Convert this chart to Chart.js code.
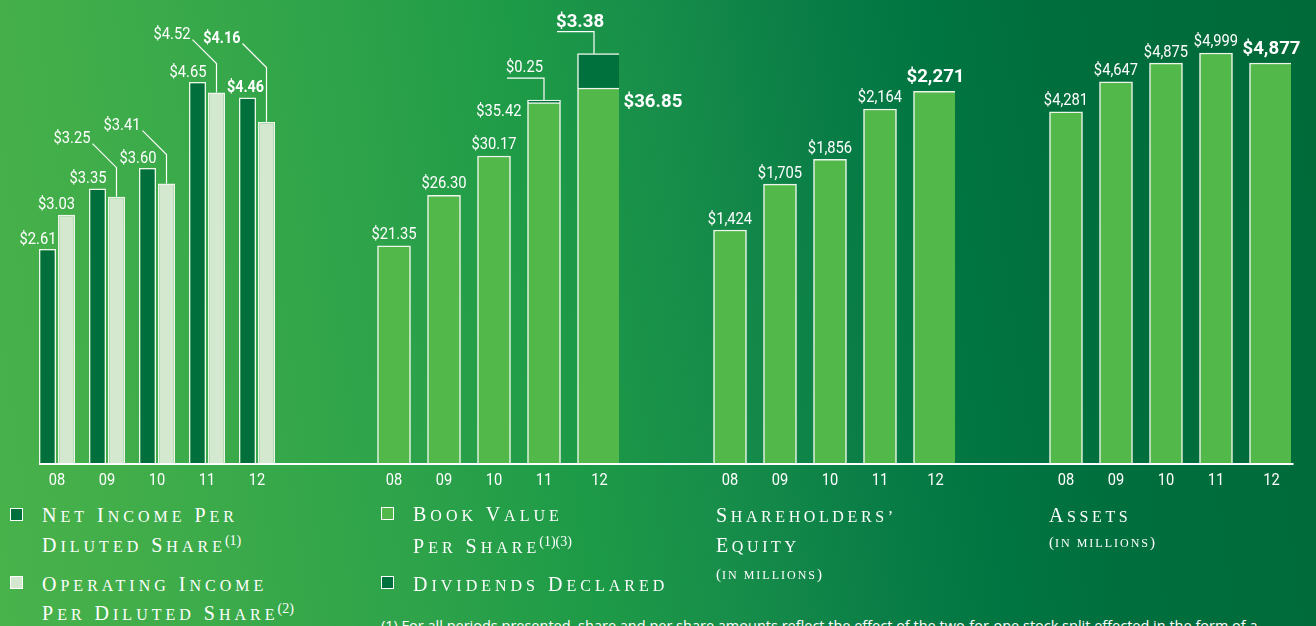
<!DOCTYPE html>
<html><head><meta charset="utf-8">
<script src="https://cdn.jsdelivr.net/npm/chart.js@4.4.0/dist/chart.umd.min.js"></script>
<style>
html,body{margin:0;padding:0;width:1316px;height:626px;overflow:hidden;}
body{position:relative;background:linear-gradient(82deg,#48b24b 0%,#45b04a 6%,#2ea34a 30%,#1d9a47 43%,#178d4a 53%,#0a7e46 63%,#007541 72%,#006e3d 81%,#006a39 100%);font-family:'Liberation Serif',serif;color:#fff;}
canvas{position:absolute;top:0;}
.leg{position:absolute;font-size:20px;letter-spacing:4px;line-height:20px;white-space:nowrap;color:#fff;}
.leg.t{letter-spacing:3.6px;}
.leg .s{font-size:16px;text-transform:uppercase;}
.leg sup{font-size:14px;letter-spacing:0;vertical-align:0;position:relative;top:-7px;margin-left:-1px;}
.sub{position:absolute;font-size:12px;text-transform:uppercase;letter-spacing:2px;line-height:15px;white-space:nowrap;color:#fff;}
.sub .p{font-size:15px;letter-spacing:1px;}
.sw{position:absolute;width:11px;height:11px;border:1.5px solid #fff;}
.note{position:absolute;left:381px;top:617px;font-family:'Open Sans',sans-serif;font-size:14.5px;line-height:18px;white-space:nowrap;color:#fff;}
</style></head>
<body>
<canvas id="c1" width="400" height="500" style="left:-11px"></canvas>
<canvas id="c2" width="400" height="500" style="left:326px"></canvas>
<canvas id="c3" width="400" height="500" style="left:662px"></canvas>
<canvas id="c4" width="400" height="500" style="left:998px"></canvas>

<div class="sw" style="left:10px;top:508px;background:#006f3c"></div>
<div class="leg" style="left:42px;top:505px">N<span class="s">et</span> I<span class="s">ncome</span> P<span class="s">er</span></div>
<div class="leg" style="left:42px;top:535px">D<span class="s">iluted</span> S<span class="s">hare</span><sup>(1)</sup></div>
<div class="sw" style="left:10px;top:576px;background:#d4e8cf"></div>
<div class="leg" style="left:42px;top:574px">O<span class="s">perating</span> I<span class="s">ncome</span></div>
<div class="leg" style="left:42px;top:603px">P<span class="s">er</span> D<span class="s">iluted</span> S<span class="s">hare</span><sup>(2)</sup></div>

<div class="sw" style="left:381px;top:507px;background:#53b84a"></div>
<div class="leg" style="left:413px;top:504px">B<span class="s">ook</span> V<span class="s">alue</span></div>
<div class="leg" style="left:413px;top:536px">P<span class="s">er</span> S<span class="s">hare</span><sup>(1)(3)</sup></div>
<div class="sw" style="left:381px;top:576px;background:#00703d"></div>
<div class="leg" style="left:413px;top:574px">D<span class="s">ividends</span> D<span class="s">eclared</span></div>

<div class="leg t" style="left:716px;top:505px">S<span class="s">hareholders’</span></div>
<div class="leg t" style="left:716px;top:535px">E<span class="s">quity</span></div>
<div class="sub" style="left:716px;top:567px"><span class="p">(</span>in millions<span class="p">)</span></div>

<div class="leg t" style="left:1049px;top:505px">A<span class="s">ssets</span></div>
<div class="sub" style="left:1049px;top:535px"><span class="p">(</span>in millions<span class="p">)</span></div>

<div class="note">(1) For all periods presented, share and per share amounts reflect the effect of the two-for-one stock split effected in the form of a</div>

<script>
// ---- data ----
const years = ['08', '09', '10', '11', '12'];
const netIncome = [2.61, 3.35, 3.60, 4.65, 4.46];
const operatingIncome = [3.03, 3.25, 3.41, 4.52, 4.16];
const bookValue = [21.35, 26.30, 30.17, 35.42, 36.85];
const dividends = [null, null, null, 0.25, 3.38];
const equity = [1424, 1705, 1856, 2164, 2271];
const assets = [4281, 4647, 4875, 4999, 4877];

// ---- style ----
const COL = {dark:'#006f3c', light:'#d4e8cf', green:'#53b84a', div:'#00703d', edge:'#eef6ec'};
const NORMAL_W = 33, WIDE_W = 44;
const LAST = years.length - 1;
const FONTS = {
  reg:   {font:'16px Roboto', sx:0.92},
  boldS: {font:'bold 16px Roboto', sx:0.9},
  boldL: {font:'bold 19px Roboto', sx:0.98},
  tick:  {font:'17px Roboto', sx:0.86}
};
const money2 = v => '$' + v.toFixed(2);
const money0 = v => '$' + v.toLocaleString('en-US');

function drawText(ctx, s, x, y, align, kind){
  const f = FONTS[kind];
  ctx.save(); ctx.font = f.font; ctx.fillStyle = '#fff';
  ctx.textAlign = align; ctx.textBaseline = 'alphabetic';
  ctx.translate(x, y); ctx.scale(f.sx, 1); ctx.fillText(s, 0, 0); ctx.restore();
}
function stroke(ctx, pts){
  ctx.save(); ctx.strokeStyle = '#fff'; ctx.lineWidth = 1.2; ctx.beginPath();
  pts.forEach((p, i) => i ? ctx.lineTo(p[0], p[1]) : ctx.moveTo(p[0], p[1]));
  ctx.stroke(); ctx.restore();
}
const onlyLast = arr => arr.map((v, i) => i === LAST ? v : null);
const notLast = arr => arr.map((v, i) => i === LAST ? null : v);

function baseOpts(max, stacked){
  return {
    responsive:false, animation:false, events:[],
    layout:{padding:{left:43, right:107, top:0, bottom:37}},
    plugins:{legend:{display:false}, tooltip:{enabled:false}},
    scales:{
      x:{display:false, stacked:stacked, grid:{display:false}},
      y:{display:false, min:0, max:max, stacked:stacked}
    }
  };
}

// shift the wide (highlighted-year) bars so their left edge stays aligned
const widePlugin = {
  id:'wide',
  afterDatasetsUpdate(chart){
    chart.data.datasets.forEach((ds, di) => {
      if (!ds.wide) return;
      chart.getDatasetMeta(di).data.forEach(el => { el.x += (WIDE_W - NORMAL_W) / 2; });
    });
  }
};

// baseline and year ticks
function axisPlugin(fromBar, toBar){
  return {
    id:'axis',
    afterDatasetsDraw(chart){
      const ctx = chart.ctx, a = chart.chartArea, W = chart.width;
      const metas = chart.data.datasets.map((d, i) => chart.getDatasetMeta(i));
      const firstEl = metas[0].data[0];
      const lastDs = chart.data.datasets.length - 1;
      const lastEl = metas[lastDs].data[LAST];
      const x0 = fromBar ? firstEl.x - firstEl.width / 2 : -1;
      const x1 = toBar ? lastEl.x + lastEl.width / 2 : W + 1;
      ctx.save(); ctx.strokeStyle = '#fff'; ctx.lineWidth = 2;
      ctx.beginPath(); ctx.moveTo(x0, a.bottom + 1); ctx.lineTo(x1, a.bottom + 1); ctx.stroke(); ctx.restore();
      years.forEach((yr, i) => {
        let x = chart.scales.x.getPixelForValue(i);
        if (chart.data.datasets.some(d => d.wide) && i === LAST) x += (WIDE_W - NORMAL_W) / 2;
        drawText(ctx, yr, x, a.bottom + 22, 'center', 'tick');
      });
    }
  };
}

// ---- Panel 1: net income / operating income ----
new Chart(document.getElementById('c1'), {
  type:'bar',
  data:{labels:years, datasets:[
    {label:'Net Income Per Diluted Share', data:netIncome, backgroundColor:COL.dark, borderColor:COL.edge,
     borderWidth:1.5, categoryPercentage:0.76, barPercentage:17/19},
    {label:'Operating Income Per Diluted Share', data:operatingIncome, backgroundColor:COL.light, borderColor:COL.edge,
     borderWidth:1.5, categoryPercentage:0.76, barPercentage:17/19}
  ]},
  options:baseOpts(5.65, false),
  plugins:[axisPlugin(true, false), {
    id:'labels1',
    afterDatasetsDraw(chart){
      const ctx = chart.ctx;
      const ni = chart.getDatasetMeta(0).data, op = chart.getDatasetMeta(1).data;
      years.forEach((yr, i) => {
        const a = ni[i], b = op[i], hi = i === LAST;
        const kind = hi ? 'boldS' : 'reg';
        if (hi) drawText(ctx, money2(netIncome[i]), a.x - 2, a.y - 6, 'center', kind);
        else drawText(ctx, money2(netIncome[i]), a.x + a.width / 2 + 0.5, a.y - 5, 'right', kind);
        if (operatingIncome[i] >= netIncome[i]) {
          drawText(ctx, money2(operatingIncome[i]), b.x + b.width / 2, b.y - 6, 'right', kind);
        } else {
          const D = hi ? a.y - 30 : b.y - 29;
          stroke(ctx, [[b.x - 24, D - 24], [b.x, D], [b.x, b.y]]);
          drawText(ctx, money2(operatingIncome[i]), b.x - 26, D - 25, 'right', kind);
        }
      });
    }
  }]
});

// ---- Panel 2: book value + dividends ----
new Chart(document.getElementById('c2'), {
  type:'bar',
  data:{labels:years, datasets:[
    {label:'Book Value Per Share', data:notLast(bookValue), backgroundColor:COL.green, borderColor:COL.edge, borderWidth:1.5, barThickness:NORMAL_W},
    {label:'Dividends Declared', data:notLast(dividends), backgroundColor:COL.div, borderColor:COL.edge, borderWidth:1.5, barThickness:NORMAL_W},
    {label:'Book Value Per Share', data:onlyLast(bookValue), backgroundColor:COL.green, borderColor:COL.edge, borderWidth:1.5, barThickness:WIDE_W, wide:true},
    {label:'Dividends Declared', data:onlyLast(dividends), backgroundColor:COL.div, borderColor:COL.edge, borderWidth:1.5, barThickness:WIDE_W, wide:true}
  ]},
  options:baseOpts(45.5, true),
  plugins:[widePlugin, axisPlugin(false, false), {
    id:'labels2',
    afterDatasetsDraw(chart){
      const ctx = chart.ctx;
      years.forEach((yr, i) => {
        const hi = i === LAST;
        const bk = chart.getDatasetMeta(hi ? 2 : 0).data[i];
        const dv = chart.getDatasetMeta(hi ? 3 : 1).data[i];
        const cx = chart.scales.x.getPixelForValue(i);
        if (dividends[i] == null) {
          drawText(ctx, money2(bookValue[i]), bk.x, bk.y - 7, 'center', 'reg');
          return;
        }
        if (hi) drawText(ctx, money2(bookValue[i]), bk.x + bk.width / 2 + 2, bk.y + 19, 'left', 'boldL');
        else drawText(ctx, money2(bookValue[i]), bk.x - bk.width / 2 - 6, bk.y + 13, 'right', 'reg');
        const Ly = dv.y - 22;
        stroke(ctx, [[cx - 37, Ly], [cx, Ly], [cx, dv.y]]);
        drawText(ctx, money2(dividends[i]), cx - 38, Ly - (hi ? 5 : 6), 'left', hi ? 'boldL' : 'reg');
      });
    }
  }]
});

// ---- Panels 3 & 4: equity and assets ----
function simplePanel(id, values, max, label){
  new Chart(document.getElementById(id), {
    type:'bar',
    data:{labels:years, datasets:[
      {label:label, data:notLast(values), backgroundColor:COL.green, borderColor:COL.edge, borderWidth:1.5, barThickness:NORMAL_W},
      {label:label, data:onlyLast(values), backgroundColor:COL.green, borderColor:COL.edge, borderWidth:1.5, barThickness:WIDE_W, wide:true}
    ]},
    options:baseOpts(max, true),
    plugins:[widePlugin, axisPlugin(false, id === 'c4'), {
      id:'labels_' + id,
      afterDatasetsDraw(chart){
        const ctx = chart.ctx;
        years.forEach((yr, i) => {
          const hi = i === LAST;
          const el = chart.getDatasetMeta(hi ? 1 : 0).data[i];
          if (hi) drawText(ctx, money0(values[i]), el.x, el.y - 9, 'center', 'boldL');
          else drawText(ctx, money0(values[i]), el.x, el.y - 6.5, 'center', 'reg');
        });
      }
    }]
  });
}
simplePanel('c3', equity, 2830, "Shareholders' Equity");
simplePanel('c4', assets, 5645, 'Assets');
</script>
</body></html>
